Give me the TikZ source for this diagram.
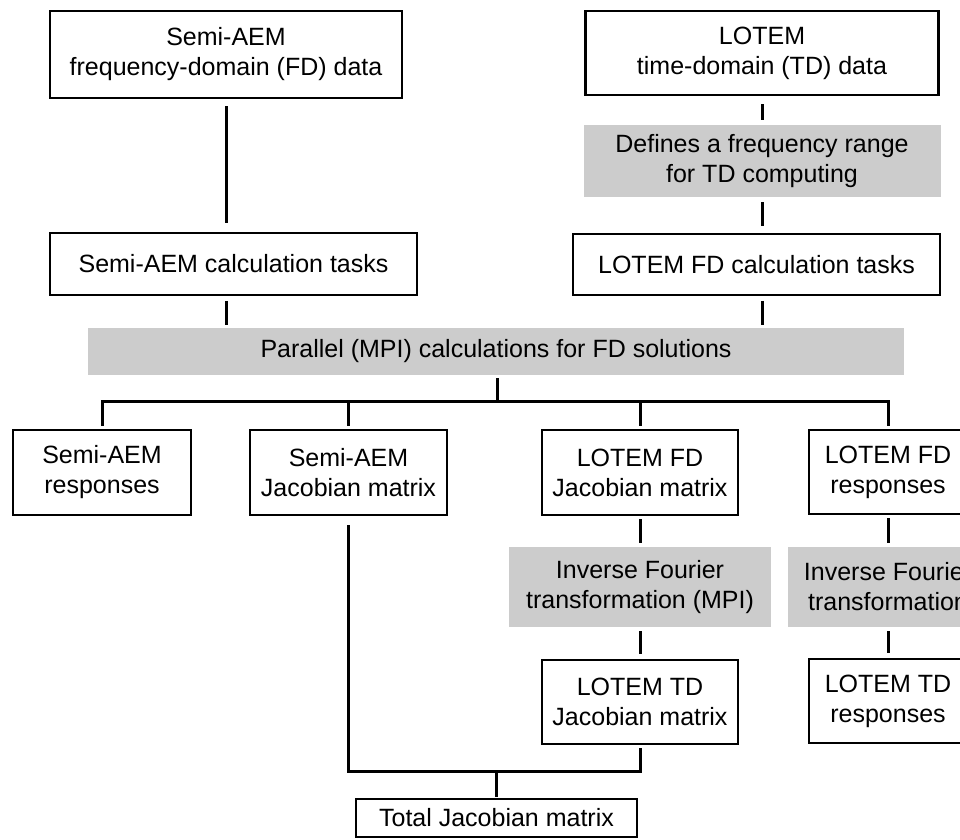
\documentclass[tikz,border=0pt]{standalone}
\usepackage{fontspec}
\setmainfont{Liberation Sans}
\usepackage{xcolor}
\definecolor{panelgrey}{RGB}{204,204,204}

\begin{document}
\begin{tikzpicture}[x=1pt, y=-1pt,
  every node/.style={font=\fontsize{25}{30}\selectfont, align=center, inner sep=4pt},
  databox/.style={draw, line width=2.6pt},
  taskbox/.style={draw, line width=1.8pt},
  greybox/.style={fill=panelgrey},
  link/.style={line width=3pt}]
  \useasboundingbox (0,0) rectangle (960,839);
  \clip (0,0) rectangle (960,839);

  % inputs and preparation
  \node[databox, minimum width=352, minimum height=87] (fddata) at (226,54.5) {Semi-AEM\\frequency-domain (FD) data};
  \node[databox, minimum width=353, minimum height=84] (tddata) at (762,53) {LOTEM\\time-domain (TD) data};
  \node[greybox, minimum width=357, minimum height=72] (range) at (762,161) {Defines a frequency range\\for TD computing};
  \node[taskbox, minimum width=367, minimum height=62] (semitask) at (233.5,264) {Semi-AEM calculation tasks};
  \node[taskbox, minimum width=367, minimum height=61] (lotemtask) at (756.5,264.5) {LOTEM FD calculation tasks};
  \node[greybox, minimum width=816, minimum height=47] (mpi) at (496,351.5) {Parallel (MPI) calculations for FD solutions};

  % results
  \node[databox, minimum width=178, minimum height=85] (semiresp) at (102,472.5) {Semi-AEM\\responses};
  \node[databox, minimum width=197, minimum height=85] (semijac) at (348.5,472.5) {Semi-AEM\\Jacobian matrix};
  \node[databox, minimum width=196, minimum height=85] (fdjac) at (640,472.5) {LOTEM FD\\Jacobian matrix};
  \node[databox, minimum width=158, minimum height=84] (fdresp) at (888,472) {LOTEM FD\\responses};
  \node[greybox, minimum width=262, minimum height=80] (ifftjac) at (640,587) {Inverse Fourier\\transformation (MPI)};
  \node[greybox, minimum width=200, minimum height=80] (ifftresp) at (888,587) {Inverse Fourier\\transformation};
  \node[databox, minimum width=196, minimum height=84] (tdjac) at (640,702) {LOTEM TD\\Jacobian matrix};
  \node[databox, minimum width=158, minimum height=84] (tdresp) at (888,701) {LOTEM TD\\responses};
  \node[taskbox, minimum width=281, minimum height=38] (total) at (496.5,818) {Total Jacobian matrix};

  \coordinate (fork) at (497,401);
  \coordinate (join) at (496.5,771);

  % connectors
  \draw[link, shorten <=7pt, shorten >=9pt] (fddata) -- (fddata |- semitask.north);
  \draw[link, shorten <=8pt, shorten >=5pt] (tddata) -- (range);
  \draw[link, shorten <=5pt, shorten >=7pt] (range) -- (range |- lotemtask.north);
  \draw[link, shorten <=5pt, shorten >=3pt] (semitask.south -| fddata) -- (mpi.north -| fddata);
  \draw[link, shorten <=5pt, shorten >=3pt] (lotemtask.south -| range) -- (mpi.north -| range);
  \draw[link, shorten <=3pt] (mpi.south -| fork) -- (fork);
  \foreach \n in {semiresp, semijac, fdjac, fdresp}
    \draw[link, shorten >=3pt] (fork) -| (\n);
  \draw[link, shorten <=3pt, shorten >=4pt] (fdjac) -- (ifftjac);
  \draw[link, shorten <=4pt, shorten >=5pt] (ifftjac) -- (tdjac);
  \draw[link, shorten <=3pt, shorten >=4pt] (fdresp) -- (ifftresp);
  \draw[link, shorten <=4pt, shorten >=5pt] (ifftresp) -- (tdresp);
  \draw[link, shorten <=9pt] (semijac) |- (join);
  \draw[link, shorten <=3pt] (tdjac) |- (join);
  \draw[link, shorten >=1pt] (join) -- (total);
\end{tikzpicture}
\end{document}
